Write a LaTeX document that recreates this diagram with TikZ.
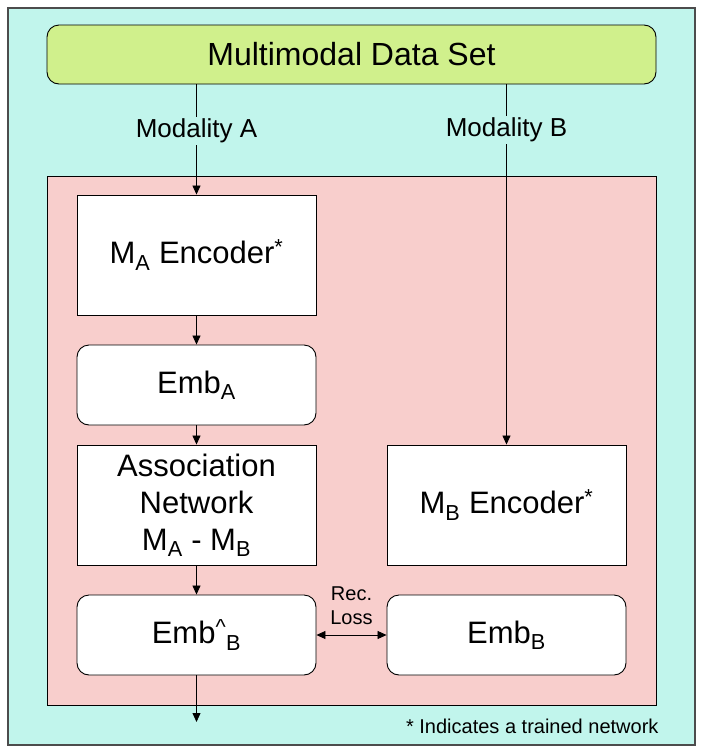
\documentclass[tikz,border=0pt]{standalone}
\usepackage{fontspec}
\setmainfont{Liberation Sans}
\usetikzlibrary{arrows.meta}

\definecolor{setcyan}{RGB}{193,245,236}
\definecolor{datagreen}{RGB}{208,240,140}
\definecolor{modelpink}{RGB}{248,206,204}

\tikzset{
  netbox/.style={draw, fill=white, line width=0.9pt, inner sep=0pt,
    minimum width=239pt, minimum height=120pt, align=center,
    font=\fontsize{31}{37}\selectfont},
  embbox/.style={netbox, rounded corners=12pt, minimum height=80pt},
  flow/.style={-{Triangle[length=9pt,width=8pt]}, line width=0.8pt},
  modlabel/.style={fill=setcyan, inner sep=2pt, font=\fontsize{26}{30}\selectfont},
}

\begin{document}
\begin{tikzpicture}[x=1pt,y=-1pt]
\useasboundingbox (0,0) rectangle (702,753);
\node[draw=black!70, line width=2pt, fill=setcyan, inner sep=0pt,
  minimum width=687pt, minimum height=737pt] (frame) at (351.5,376.5) {};
\node[draw, line width=0.9pt, fill=datagreen, rounded corners=12pt, inner sep=0pt,
  minimum width=609pt, minimum height=59pt, font=\fontsize{32}{36}\selectfont]
  (data) at (351.5,54.5) {Multimodal Data Set};
\node[draw, line width=0.9pt, fill=modelpink, inner sep=0pt,
  minimum width=609pt, minimum height=529pt] (model) at (351.5,440.5) {};

% modality A branch
\node[netbox] (enca) at (196.5,255) {M\textsubscript{A} Encoder\textsuperscript{*}};
\node[embbox] (emba) at (196.5,385) {Emb\textsubscript{A}};
\node[netbox] (assoc) at (196.5,505) {Association\\Network\\M\textsubscript{A} - M\textsubscript{B}};
\node[embbox] (embhat) at (196.5,635) {Emb\textsuperscript{\textasciicircum}\textsubscript{B}};
\coordinate (out) at (196.5,722);

% modality B branch
\node[netbox] (encb) at (506.5,505) {M\textsubscript{B} Encoder\textsuperscript{*}};
\node[embbox] (embb) at (506.5,635) {Emb\textsubscript{B}};

\node[align=center, font=\fontsize{20}{24}\selectfont] (loss) at (351.5,606) {Rec.\\Loss};
\node[anchor=east, font=\fontsize{20}{24}\selectfont] (note) at (662,726) {* Indicates a trained network};

\draw[flow] (data.south -| enca.north) -- node[modlabel, pos=0.42] {Modality A} (enca.north);
\draw[flow] (data.south -| encb.north) -- node[modlabel, pos=0.127] {Modality B} (encb.north);
\draw[flow] (enca) -- (emba);
\draw[flow] (emba) -- (assoc);
\draw[flow] (assoc) -- (embhat);
\draw[flow] (embhat) -- (out);
\draw[flow, {Triangle[length=9pt,width=8pt]}-{Triangle[length=9pt,width=8pt]}] (embhat) -- (embb);
\end{tikzpicture}
\end{document}
